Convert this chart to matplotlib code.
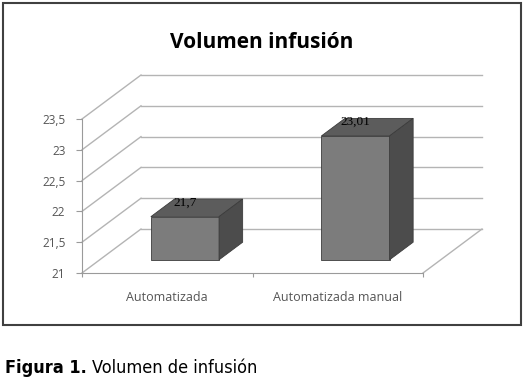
import numpy as np
import matplotlib.pyplot as plt
from matplotlib.patches import Polygon, Rectangle

# data
categories = ['Automatizada', 'Automatizada manual']
values = [21.7, 23.01]
value_labels = ['21,7', '23,01']
yticks = [21, 21.5, 22, 22.5, 23, 23.5]
ytick_labels = ['21', '21,5', '22', '22,5', '23', '23,5']

# pseudo 3d depth (in data units)
DX = 0.346
DY = 0.714
bar_w = 0.4
d0, d1 = 0.3, 0.7   # bar depth span

fig = plt.figure(figsize=(5.25, 3.84), dpi=100)
ax = fig.add_axes([82/525, (384-273)/384, 341/525, 154/384])
ax.set_xlim(-0.5, 1.5)
ax.set_ylim(21, 23.5)

grid_c = '#b4b4b4'
ymin = yticks[0]
# back wall gridlines + side wall diagonals
for v in yticks:
    ax.plot([-0.5 + DX, 1.5 + DX], [v + DY, v + DY], color=grid_c, lw=1, clip_on=False, zorder=1)
    ax.plot([-0.5, -0.5 + DX], [v, v + DY], color=grid_c, lw=1, clip_on=False, zorder=1)
ax.plot([1.5, 1.5 + DX], [ymin, ymin + DY], color=grid_c, lw=1, clip_on=False, zorder=1)

# bars
for i, v in enumerate(values):
    xl = i - bar_w/2
    xr = i + bar_w/2
    front = [(xl + d0*DX, ymin + d0*DY), (xr + d0*DX, ymin + d0*DY),
             (xr + d0*DX, v + d0*DY), (xl + d0*DX, v + d0*DY)]
    top = [(xl + d0*DX, v + d0*DY), (xr + d0*DX, v + d0*DY),
           (xr + d1*DX, v + d1*DY), (xl + d1*DX, v + d1*DY)]
    side = [(xr + d0*DX, ymin + d0*DY), (xr + d1*DX, ymin + d1*DY),
            (xr + d1*DX, v + d1*DY), (xr + d0*DX, v + d0*DY)]
    for pts, col in [(front, '#7c7c7c'), (top, '#5c5c5c'), (side, '#4c4c4c')]:
        ax.add_patch(Polygon(pts, closed=True, facecolor=col, edgecolor='#3c3c3c',
                             lw=0.6, clip_on=False, zorder=3))
    ax.annotate(value_labels[i], (i + d0*DX, v + d0*DY), xytext=(0, 10),
                textcoords='offset points', ha='center', va='center',
                fontsize=9.5, family='Liberation Serif', color='black', zorder=5)

# axes styling
for s in ['top', 'right']:
    ax.spines[s].set_visible(False)
ax.spines['left'].set_color('#9a9a9a')
ax.spines['bottom'].set_color('#9a9a9a')
ax.set_yticks(yticks)
ax.set_yticklabels(ytick_labels)
ax.tick_params(axis='y', direction='out', length=4, color='#9a9a9a',
               labelcolor='#555555', labelsize=8.5, pad=8)
ax.set_xticks([-0.5, 0.5, 1.5])
ax.set_xticklabels([])
ax.tick_params(axis='x', which='major', direction='out', length=3, color='#9a9a9a')
ax.set_xticks([0, 1], minor=True)
ax.set_xticklabels(categories, minor=True)
ax.tick_params(axis='x', which='minor', length=0, labelcolor='#555555', labelsize=9, pad=13)
for lbl in ax.get_xticklabels(minor=True) + ax.get_yticklabels():
    lbl.set_family('Open Sans')
ax.set_facecolor('none')

# title
fig.text(261.5/525, (384-48)/384, 'Volumen infusión', ha='center', va='baseline',
         fontsize=15, fontweight='bold', family='Open Sans')

# border around chart
fig.patches.append(Rectangle((3/525, (384-325)/384), 518/525, 322/384,
                             transform=fig.transFigure, fill=False,
                             edgecolor='#404040', lw=1.5))

# caption
t1 = fig.text(5/525, (384-373)/384, 'Figura 1.', ha='left', va='baseline',
              fontsize=13, fontweight='bold', family='DejaVu Sans', fontstretch='condensed')
r = fig.canvas.get_renderer()
bb = t1.get_window_extent(renderer=r)
fig.text((bb.x1 + 5)/525, (384-373)/384, 'Volumen de infusión', ha='left', va='baseline',
         fontsize=13, family='DejaVu Sans', fontstretch='condensed')

fig.savefig('out.png', dpi=100)
